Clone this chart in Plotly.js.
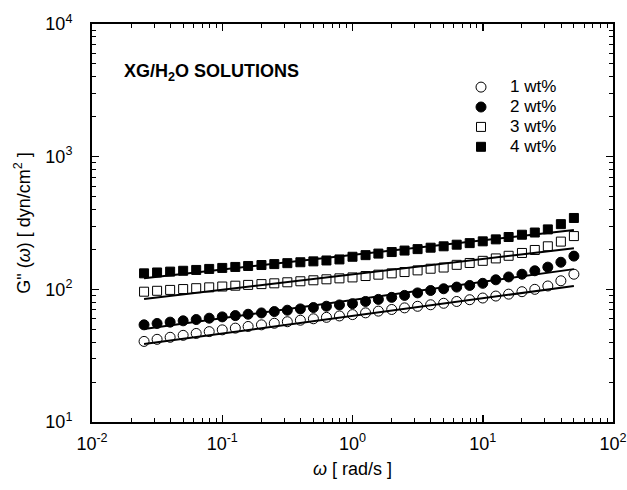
<!DOCTYPE html>
<html>
<head>
<meta charset="utf-8">
<script src="https://cdn.plot.ly/plotly-3.0.1.min.js"></script>
<style>html,body{margin:0;padding:0;background:#fff;}</style>
</head>
<body>
<div id="chart" style="width:627px;height:490px;"></div>
<script>
// angular frequency, rad/s
const omega = [0.0251,0.0316,0.0398,0.0501,0.0631,0.0794,0.1,0.126,0.158,0.2,
  0.251,0.316,0.398,0.501,0.631,0.794,1,1.26,1.58,2,
  2.51,3.16,3.98,5.01,6.31,7.94,10,12.6,15.8,20,
  25.1,31.6,39.8,50.1];

// G''(omega), dyn/cm^2
const g1wt = [40.5,42,43.5,45,46.5,48,49.5,51,52.5,54,
  55.5,57,58.5,60,61.5,63,64.5,66.5,68.5,70.5,
  72.5,74.5,76.5,78.5,81,83.5,86,89,92,96,
  100,106,116,130];
const g2wt = [54,55.3,56.6,57.9,59.2,60.6,62,63.4,64.9,66.4,
  68,69.6,71.2,72.9,74.6,76.3,78,81,84,87,
  90,94,98,101,104,107,111,118,124,130,
  138,147,160,178];
const g3wt = [96,97.5,99,100.5,102,103.5,105,106.5,108,109.5,
  111,113,115,117,119,121,123,126,129,132,
  135,139,143,146,153,158,164,171,179,188,
  198,211,229,252];
const g4wt = [132,134,136,138,140,142.5,145,147.5,150,152.5,
  155,157.5,160,162.5,165,168,176,181,186,191,
  196,201,206,211,217,223,230,238,248,258,
  268,283,310,345];

// power-law fit lines (end points)
const fitOmega = [0.0251, 50.1];
const fit1 = [38.7, 106];
const fit2 = [50.2, 142];
const fit3 = [84.5, 204];
const fit4 = [121, 280];

const seriesNames = ['1 wt%','2 wt%','3 wt%','4 wt%'];
const xTickVals = [0.01,0.1,1,10,100];
const xTickText = ['10<sup>-2</sup>','10<sup>-1</sup>','10<sup>0</sup>','10<sup>1</sup>','10<sup>2</sup>'];
const yTickVals = [10,100,1000,10000];
const yTickText = ['10<sup>1</sup>','10<sup>2</sup>','10<sup>3</sup>','10<sup>4</sup>'];

// all log ticks (1..9 x 10^e); labels only on the decades
function allTicks(lo, hi, majors, labels) {
  const vals = [], text = [];
  for (let e = lo; e <= hi; e++) {
    for (let m = 1; m <= 9; m++) {
      if (e === hi && m > 1) break;
      const v = m * Math.pow(10, e);
      vals.push(v);
      const k = majors.findIndex(t => Math.abs(t - v) / v < 1e-9);
      text.push(k >= 0 ? labels[k] : '');
    }
  }
  return {vals, text};
}

const FONT = 'Liberation Sans, Arial, Helvetica, sans-serif';

const dataSets = [g1wt, g2wt, g3wt, g4wt];
const fits = [fit1, fit2, fit3, fit4];
const symbols = ['circle-open','circle','square-open','square'];
const sizes = [10, 10, 9, 9];

const traces = [];
for (let i = 0; i < 4; i++) {
  traces.push({
    x: fitOmega, y: fits[i], mode: 'lines', type: 'scatter',
    line: {color: '#000', width: 2}, showlegend: false, hoverinfo: 'skip'
  });
}
for (let i = 0; i < 4; i++) {
  traces.push({
    x: omega, y: dataSets[i], mode: 'markers', type: 'scatter',
    name: '<span style="font-size:17px">' + seriesNames[i] + '</span>',
    marker: {symbol: symbols[i], size: sizes[i], color: '#000',
             line: {color: '#000', width: 1}}
  });
}
// invisible trace so the major-tick overlay axes get drawn
traces.push({x: [fitOmega[0]], y: [fit1[0]], xaxis: 'x2', yaxis: 'y2', mode: 'markers',
  marker: {opacity: 0}, showlegend: false, hoverinfo: 'skip'});

const xT = allTicks(-2, 2, xTickVals, xTickText);
const yT = allTicks(1, 4, yTickVals, yTickText);

const axisCommon = {
  type: 'log', showline: true, linecolor: '#000', linewidth: 2,
  mirror: 'allticks', ticks: 'inside', ticklen: 4, tickwidth: 1, tickcolor: '#000',
  showgrid: false, zeroline: false, tickmode: 'array',
  tickfont: {family: FONT, size: 18, color: '#000'}
};
const majorOverlay = {
  type: 'log', showline: false, mirror: 'allticks', ticks: 'inside', ticklen: 7,
  tickwidth: 1.5, tickcolor: '#000', showgrid: false, zeroline: false,
  tickmode: 'array', showticklabels: false
};

const layout = {
  width: 627, height: 490,
  margin: {l: 92, r: 14, t: 24, b: 68},
  paper_bgcolor: '#fff', plot_bgcolor: '#fff',
  font: {family: FONT, color: '#000'},
  xaxis: Object.assign({}, axisCommon, {
    range: [-2, 2], tickvals: xT.vals, ticktext: xT.text, ticklabelstandoff: 4,
    title: {text: '<i>ω</i> [ rad/s ]', font: {family: FONT, size: 18, color: '#000'}, standoff: 10}
  }),
  yaxis: Object.assign({}, axisCommon, {
    range: [1, 4], tickvals: yT.vals, ticktext: yT.text, ticklabelstandoff: 14,
    title: {text: 'G" (<i>ω</i>) [ dyn/cm<sup>2</sup> ]', font: {family: FONT, size: 18, color: '#000'}, standoff: 10}
  }),
  xaxis2: Object.assign({}, majorOverlay, {
    range: [-2, 2], tickvals: xTickVals, overlaying: 'x', anchor: 'y2'
  }),
  yaxis2: Object.assign({}, majorOverlay, {
    range: [1, 4], tickvals: yTickVals, overlaying: 'y', anchor: 'x2'
  }),
  legend: {
    x: 0.691, y: 0.879, xanchor: 'left', yanchor: 'top',
    bgcolor: 'rgba(0,0,0,0)', borderwidth: 0, itemwidth: 48,
    font: {family: FONT, size: 13, color: '#000'},
    tracegroupgap: 0
  },
  annotations: [{
    xref: 'paper', yref: 'paper', x: 0.057, y: 0.879,
    xanchor: 'left', yanchor: 'middle', showarrow: false,
    text: '<b>XG/H<sub>2</sub>O SOLUTIONS</b>',
    font: {family: FONT, size: 18, color: '#000'}
  }]
};

Plotly.newPlot('chart', traces, layout, {displayModeBar: false, staticPlot: true});
</script>
</body>
</html>
